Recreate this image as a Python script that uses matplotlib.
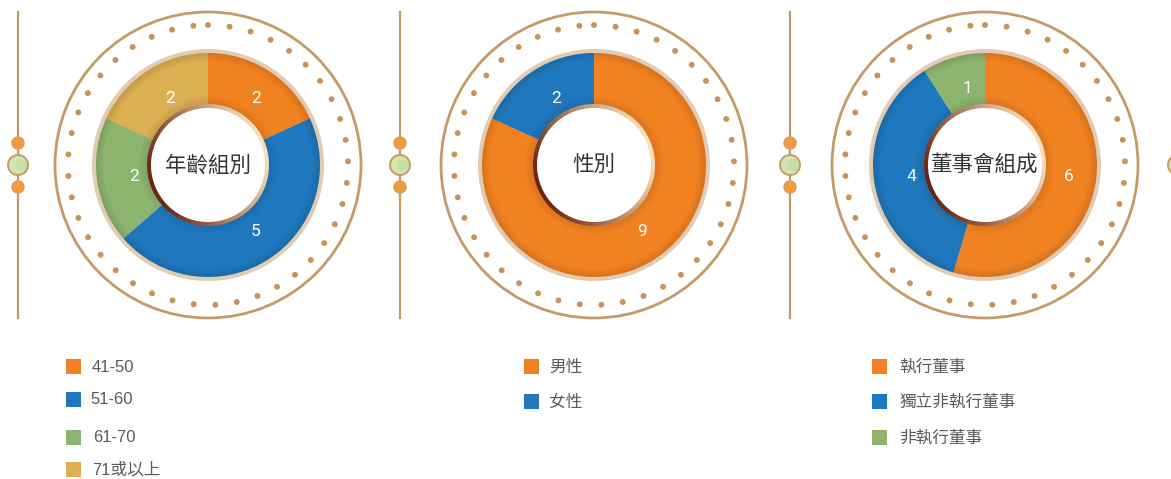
# Board composition donut charts

import numpy as np
import matplotlib.pyplot as plt
from matplotlib.patches import Wedge, Circle, Rectangle

plt.rcParams["font.family"] = ["Noto Sans CJK TC", "DejaVu Sans"]

# Data
titles = ["年齡組別", "性別", "董事會組成"]

age_labels = ["41-50", "51-60", "61-70", "71或以上"]
age_values = [2, 5, 2, 2]

gender_labels = ["男性", "女性"]
gender_values = [9, 2]

board_labels = ["執行董事", "獨立非執行董事", "非執行董事"]
board_values = [6, 4, 1]

orange = "#f18221"
blue = "#1f78bd"
green = "#8cb46f"
yellow = "#dcaf52"
tan = "#c49a68"

charts = [
    (age_labels, age_values, [orange, blue, green, yellow]),
    (gender_labels, gender_values, [orange, blue]),
    (board_labels, board_values, [orange, blue, green]),
]

W, H = 1171, 479
fig = plt.figure(figsize=(W / 100, H / 100), dpi=100)
ax = fig.add_axes([0, 0, 1, 1])
ax.set_xlim(0, W)
ax.set_ylim(0, H)
ax.set_aspect("equal")
ax.axis("off")


def py(y):
    # pixel row -> data y
    return H - y


centers_x = [208, 594, 985]
cy = py(165)
r_out, r_ring, r_dots = 112, 153, 140
r_hole = 57
line_x = [18, 400, 790, 1178]
legend_x = [66, 524, 872]
legend_rows = [[366, 399, 437, 469], [366, 401], [366, 401, 437]]
legend_text_x = [[92, 90, 93, 92], [549, 549], [899, 899, 899]]

# vertical lines with knobs
for lx in line_x:
    ax.plot([lx, lx], [py(12), py(318)], color=tan, lw=1.6, zorder=1)
    for ky in (143, 187):
        ax.add_patch(Circle((lx, py(ky)), 6, facecolor="#f29a3c",
                            edgecolor="#d49a5e", lw=1.0, zorder=2))
    ax.add_patch(Circle((lx, py(165)), 10, facecolor="#d3e6b0",
                        edgecolor=tan, lw=1.4, zorder=2))
    ax.add_patch(Circle((lx + 3, py(165)), 6, facecolor="#c2dca0",
                        edgecolor="none", alpha=0.7, zorder=2))

for cx, title, (labels, values, colors), lgx, rows, txs in zip(
        centers_x, titles, charts, legend_x, legend_rows, legend_text_x):
    # outer thin ring
    ax.add_patch(Circle((cx, cy), r_ring, facecolor="none",
                        edgecolor=tan, lw=2.0, zorder=2))
    # dotted ring
    ang = np.deg2rad(90 - np.arange(0, 360, 8.85))
    ax.scatter(cx + r_dots * np.cos(ang), cy + r_dots * np.sin(ang),
               s=18, color="#c9925a", edgecolors="none", zorder=2)
    # beige border of donut
    ax.add_patch(Circle((cx, cy), r_out + 4, facecolor="#e2cbb3",
                        edgecolor="none", zorder=3))

    wedges, texts = ax.pie(
        values, colors=colors, center=(cx, cy), radius=r_out,
        startangle=90, counterclock=False,
        labels=[str(v) for v in values], labeldistance=0.71,
        wedgeprops=dict(width=r_out - r_hole, edgecolor="none"),
        textprops=dict(color="white", fontsize=12.5,
                       family=["Roboto", "DejaVu Sans"]),
        frame=True,
    )
    for w in wedges:
        w.set_zorder(4)
    for t in texts:
        t.set_zorder(7)

    # soft shading at donut edges
    for i in range(8):
        a = 0.022 * (8 - i)
        ax.add_patch(Wedge((cx, cy), r_out - i, 0, 360, width=1,
                           facecolor="black", alpha=a * 0.6,
                           edgecolor="none", zorder=5))
        ax.add_patch(Wedge((cx, cy), r_hole + 5 + i, 0, 360, width=1,
                           facecolor="black", alpha=a * 0.5,
                           edgecolor="none", zorder=5))

    # copper gradient ring around the hole
    n_seg = 90
    for k in range(n_seg):
        a0 = k * 360 / n_seg
        t = 0.5 + 0.5 * np.cos(np.deg2rad(a0 - 20))
        c0 = np.array([0.42, 0.14, 0.05])
        c1 = np.array([0.97, 0.88, 0.74])
        col = c0 + (c1 - c0) * t
        ax.add_patch(Wedge((cx, cy), r_hole + 4, a0, a0 + 360 / n_seg + 0.5,
                           width=4.5, facecolor=col, edgecolor="none",
                           zorder=6))
    ax.add_patch(Circle((cx, cy), r_hole, facecolor="white",
                        edgecolor="none", zorder=6))
    ax.text(cx, cy, title, ha="center", va="center", fontsize=15.5,
            color="#333333", zorder=7)

    # legend
    for lab, col, ry, tx in zip(labels, colors, rows, txs):
        ax.add_patch(Rectangle((lgx, py(ry) - 7.5), 15, 15,
                               facecolor=col, edgecolor="none"))
        ax.text(tx, py(ry) - 1, lab, ha="left", va="center",
                fontsize=12, color="#5a5a5a",
                family=["Liberation Sans", "Noto Sans CJK TC"])

ax.set_xlim(0, W)
ax.set_ylim(0, H)
ax.axis("off")

fig.savefig("out.png", dpi=100)
